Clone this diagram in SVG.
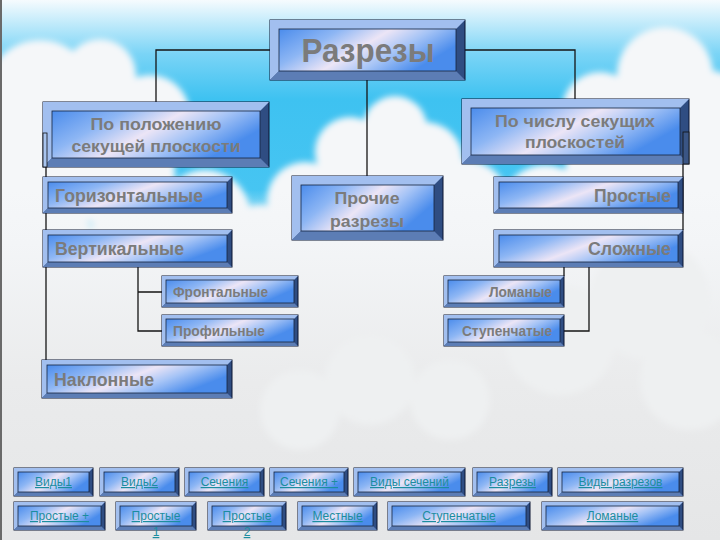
<svg xmlns="http://www.w3.org/2000/svg" width="720" height="540" viewBox="0 0 720 540">
<defs>
<linearGradient id="sky" gradientUnits="userSpaceOnUse" x1="0" y1="0" x2="0" y2="300">
<stop offset="0" stop-color="#f6fbfe"/><stop offset="0.07" stop-color="#c6ecfb"/><stop offset="0.18" stop-color="#7ad4f6"/><stop offset="0.33" stop-color="#3ec2f1"/><stop offset="0.65" stop-color="#47c5f2"/><stop offset="1" stop-color="#9adcf5"/>
</linearGradient>
<linearGradient id="low" gradientUnits="userSpaceOnUse" x1="0" y1="190" x2="0" y2="540">
<stop offset="0" stop-color="#f3f5f7" stop-opacity="0"/><stop offset="0.15" stop-color="#f3f5f7" stop-opacity="1"/><stop offset="0.55" stop-color="#eaebec"/><stop offset="1" stop-color="#e5e6e7"/>
</linearGradient>
<linearGradient id="fc" x1="0" y1="0" x2="1" y2="0.4">
<stop offset="0" stop-color="#4b8cec"/><stop offset="0.3" stop-color="#8db6f4"/><stop offset="0.55" stop-color="#ece5f6"/><stop offset="0.75" stop-color="#a6c4f6"/><stop offset="1" stop-color="#4a8cec"/>
</linearGradient>
<filter id="soft" x="-10%" y="-10%" width="120%" height="120%"><feGaussianBlur stdDeviation="3"/></filter>
<style>
.ed{fill:#2f4d82;stroke:#0b1530;stroke-width:1}
.tl{fill:#a2bfef}
.bt{fill:#5c7db5}
.fa{fill:url(#fc);stroke:#16233f;stroke-width:0.8}
.t{font-family:"Liberation Sans",Arial,sans-serif;font-weight:bold;fill:#7b7b7b}
.bn{font-family:"Liberation Sans",Arial,sans-serif;font-size:12px;fill:#1b8d9f;text-decoration:underline;text-anchor:middle}
.cn{fill:none;stroke:#151515;stroke-width:1.3}
</style>
</defs>
<g id="background">
<rect x="0" y="0" width="720" height="540" fill="url(#sky)"/>
<g fill="#f5f7f9" filter="url(#soft)">
<circle cx="40" cy="95" r="55"/><circle cx="100" cy="75" r="36"/><circle cx="150" cy="115" r="40"/><circle cx="30" cy="170" r="70"/><circle cx="120" cy="175" r="55"/><circle cx="205" cy="215" r="45"/><circle cx="40" cy="235" r="50"/>
<circle cx="395" cy="128" r="32"/><circle cx="350" cy="152" r="35"/><circle cx="425" cy="160" r="38"/><circle cx="305" cy="200" r="38"/><circle cx="465" cy="205" r="45"/><circle cx="370" cy="200" r="50"/>
<circle cx="665" cy="75" r="48"/><circle cx="600" cy="110" r="38"/><circle cx="705" cy="120" r="50"/><circle cx="625" cy="175" r="60"/><circle cx="545" cy="210" r="45"/><circle cx="705" cy="190" r="55"/><circle cx="690" cy="240" r="45"/>
<circle cx="260" cy="240" r="35"/><circle cx="510" cy="245" r="35"/><circle cx="600" cy="240" r="40"/><circle cx="130" cy="240" r="40"/>
</g>
<rect x="0" y="190" width="720" height="350" fill="url(#low)"/>
<g fill="#eef0f1" filter="url(#soft)">
<circle cx="300" cy="410" r="40"/><circle cx="370" cy="380" r="45"/><circle cx="450" cy="400" r="40"/><circle cx="560" cy="340" r="55"/><circle cx="650" cy="300" r="60"/><circle cx="690" cy="380" r="50"/>
</g>
<line x1="1" y1="0" x2="1" y2="540" stroke="#6a6a6a" stroke-width="2"/>
</g>
<g id="connectors" class="cn">
<path d="M270,50 H156 V102"/>
<path d="M465,50 H575 V99"/>
<path d="M367,80 V176"/>
<path d="M46,140 V360"/>
<path d="M683,132 V230"/>
<path d="M138,267 V331 H162 M138,292 H162"/>
<path d="M564,267 V276 M589,267 V331 H564"/>
</g>
<g id="n-razrezy">
<rect class="ed" x="270" y="20" width="195" height="60"/>
<polygon class="tl" points="270,20 465,20 456,29 279,29 279,71 270,80"/>
<polygon class="bt" points="270,80 465,80 456,71 279,71"/>
<rect class="fa" x="279" y="29" width="177" height="42"/>
<text class="t" x="368" y="62" font-size="34" text-anchor="middle" textLength="133" lengthAdjust="spacingAndGlyphs">Разрезы</text>
</g>
<g id="n-polozh">
<rect class="ed" x="43" y="102" width="226" height="65"/>
<polygon class="tl" points="43,102 269,102 260,111 52,111 52,158 43,167"/>
<polygon class="bt" points="43,167 269,167 260,158 52,158"/>
<rect class="fa" x="52" y="111" width="208" height="47"/>
<rect x="43" y="133" width="4" height="34" fill="#a8c4ee" stroke="#111" stroke-width="0.8"/>
<text class="t" x="156" y="130" font-size="17" text-anchor="middle" textLength="131" lengthAdjust="spacingAndGlyphs">По положению</text>
<text class="t" x="156" y="152" font-size="17" text-anchor="middle" textLength="169" lengthAdjust="spacingAndGlyphs">секущей плоскости</text>
</g>
<g id="n-chislo">
<rect class="ed" x="462" y="99" width="227" height="65"/>
<polygon class="tl" points="462,99 689,99 680,108 471,108 471,155 462,164"/>
<polygon class="bt" points="462,164 689,164 680,155 471,155"/>
<rect class="fa" x="471" y="108" width="209" height="47"/>
<rect x="683" y="132" width="6" height="32" fill="#3a5585" stroke="#111" stroke-width="0.8"/>
<text class="t" x="575" y="127" font-size="17" text-anchor="middle" textLength="160" lengthAdjust="spacingAndGlyphs">По числу секущих</text>
<text class="t" x="575" y="148" font-size="17" text-anchor="middle" textLength="100" lengthAdjust="spacingAndGlyphs">плоскостей</text>
</g>
<g id="n-prochie">
<rect class="ed" x="292" y="176" width="151" height="64"/>
<polygon class="tl" points="292,176 443,176 434,185 301,185 301,231 292,240"/>
<polygon class="bt" points="292,240 443,240 434,231 301,231"/>
<rect class="fa" x="301" y="185" width="133" height="46"/>
<text class="t" x="367" y="204" font-size="17" text-anchor="middle" textLength="65" lengthAdjust="spacingAndGlyphs">Прочие</text>
<text class="t" x="367" y="227" font-size="17" text-anchor="middle" textLength="74" lengthAdjust="spacingAndGlyphs">разрезы</text>
</g>
<g id="n-gor">
<rect class="ed" x="43" y="177" width="189" height="36"/>
<polygon class="tl" points="43,177 232,177 227,182 48,182 48,208 43,213"/>
<polygon class="bt" points="43,213 232,213 227,208 48,208"/>
<rect class="fa" x="48" y="182" width="179" height="26"/>
<text class="t" x="55" y="202" font-size="18" textLength="148" lengthAdjust="spacingAndGlyphs">Горизонтальные</text>
</g>
<g id="n-vert">
<rect class="ed" x="43" y="230" width="189" height="37"/>
<polygon class="tl" points="43,230 232,230 227,235 48,235 48,262 43,267"/>
<polygon class="bt" points="43,267 232,267 227,262 48,262"/>
<rect class="fa" x="48" y="235" width="179" height="27"/>
<text class="t" x="55" y="255" font-size="18" textLength="129" lengthAdjust="spacingAndGlyphs">Вертикальные</text>
</g>
<g id="n-prostye">
<rect class="ed" x="494" y="177" width="189" height="36"/>
<polygon class="tl" points="494,177 683,177 678,182 499,182 499,208 494,213"/>
<polygon class="bt" points="494,213 683,213 678,208 499,208"/>
<rect class="fa" x="499" y="182" width="179" height="26"/>
<text class="t" x="671" y="202" font-size="18" text-anchor="end" textLength="77" lengthAdjust="spacingAndGlyphs">Простые</text>
</g>
<g id="n-slozhnye">
<rect class="ed" x="494" y="230" width="189" height="37"/>
<polygon class="tl" points="494,230 683,230 678,235 499,235 499,262 494,267"/>
<polygon class="bt" points="494,267 683,267 678,262 499,262"/>
<rect class="fa" x="499" y="235" width="179" height="27"/>
<text class="t" x="671" y="255" font-size="18" text-anchor="end" textLength="83" lengthAdjust="spacingAndGlyphs">Сложные</text>
</g>
<g id="n-front">
<rect class="ed" x="162" y="276" width="136" height="31"/>
<polygon class="tl" points="162,276 298,276 294,280 166,280 166,303 162,307"/>
<polygon class="bt" points="162,307 298,307 294,303 166,303"/>
<rect class="fa" x="166" y="280" width="128" height="23"/>
<text class="t" x="173" y="297" font-size="14" textLength="95" lengthAdjust="spacingAndGlyphs">Фронтальные</text>
</g>
<g id="n-profil">
<rect class="ed" x="162" y="315" width="136" height="31"/>
<polygon class="tl" points="162,315 298,315 294,319 166,319 166,342 162,346"/>
<polygon class="bt" points="162,346 298,346 294,342 166,342"/>
<rect class="fa" x="166" y="319" width="128" height="23"/>
<text class="t" x="173" y="336" font-size="14" textLength="92" lengthAdjust="spacingAndGlyphs">Профильные</text>
</g>
<g id="n-lomanye">
<rect class="ed" x="444" y="276" width="120" height="31"/>
<polygon class="tl" points="444,276 564,276 560,280 448,280 448,303 444,307"/>
<polygon class="bt" points="444,307 564,307 560,303 448,303"/>
<rect class="fa" x="448" y="280" width="112" height="23"/>
<text class="t" x="552" y="297" font-size="14" text-anchor="end" textLength="63" lengthAdjust="spacingAndGlyphs">Ломаные</text>
</g>
<g id="n-stupen">
<rect class="ed" x="444" y="315" width="120" height="31"/>
<polygon class="tl" points="444,315 564,315 560,319 448,319 448,342 444,346"/>
<polygon class="bt" points="444,346 564,346 560,342 448,342"/>
<rect class="fa" x="448" y="319" width="112" height="23"/>
<text class="t" x="552" y="336" font-size="14" text-anchor="end" textLength="90" lengthAdjust="spacingAndGlyphs">Ступенчатые</text>
</g>
<g id="n-naklon">
<rect class="ed" x="42" y="360" width="190" height="38"/>
<polygon class="tl" points="42,360 232,360 227,365 47,365 47,393 42,398"/>
<polygon class="bt" points="42,398 232,398 227,393 47,393"/>
<rect class="fa" x="47" y="365" width="180" height="28"/>
<text class="t" x="54" y="386" font-size="19" textLength="100" lengthAdjust="spacingAndGlyphs">Наклонные</text>
</g>
<g id="btn-vidy1">
<rect class="ed" x="14" y="468" width="79" height="28"/>
<polygon class="tl" points="14,468 93,468 89,472 18,472 18,492 14,496"/>
<polygon class="bt" points="14,496 93,496 89,492 18,492"/>
<rect class="fa" x="18" y="472" width="71" height="20"/>
<text class="bn" x="53.5" y="486">Виды1</text>
</g>
<g id="btn-vidy2">
<rect class="ed" x="100" y="468" width="79" height="28"/>
<polygon class="tl" points="100,468 179,468 175,472 104,472 104,492 100,496"/>
<polygon class="bt" points="100,496 179,496 175,492 104,492"/>
<rect class="fa" x="104" y="472" width="71" height="20"/>
<text class="bn" x="139.5" y="486">Виды2</text>
</g>
<g id="btn-sech">
<rect class="ed" x="185" y="468" width="79" height="28"/>
<polygon class="tl" points="185,468 264,468 260,472 189,472 189,492 185,496"/>
<polygon class="bt" points="185,496 264,496 260,492 189,492"/>
<rect class="fa" x="189" y="472" width="71" height="20"/>
<text class="bn" x="224.5" y="486">Сечения</text>
</g>
<g id="btn-sechplus">
<rect class="ed" x="270" y="468" width="78" height="28"/>
<polygon class="tl" points="270,468 348,468 344,472 274,472 274,492 270,496"/>
<polygon class="bt" points="270,496 348,496 344,492 274,492"/>
<rect class="fa" x="274" y="472" width="70" height="20"/>
<text class="bn" x="309" y="486">Сечения +</text>
</g>
<g id="btn-vidysech">
<rect class="ed" x="354" y="468" width="111" height="28"/>
<polygon class="tl" points="354,468 465,468 461,472 358,472 358,492 354,496"/>
<polygon class="bt" points="354,496 465,496 461,492 358,492"/>
<rect class="fa" x="358" y="472" width="103" height="20"/>
<text class="bn" x="409.5" y="486">Виды сечений</text>
</g>
<g id="btn-razrezy">
<rect class="ed" x="473" y="468" width="79" height="28"/>
<polygon class="tl" points="473,468 552,468 548,472 477,472 477,492 473,496"/>
<polygon class="bt" points="473,496 552,496 548,492 477,492"/>
<rect class="fa" x="477" y="472" width="71" height="20"/>
<text class="bn" x="512.5" y="486">Разрезы</text>
</g>
<g id="btn-vidyrazr">
<rect class="ed" x="558" y="468" width="125" height="28"/>
<polygon class="tl" points="558,468 683,468 679,472 562,472 562,492 558,496"/>
<polygon class="bt" points="558,496 683,496 679,492 562,492"/>
<rect class="fa" x="562" y="472" width="117" height="20"/>
<text class="bn" x="620.5" y="486">Виды разрезов</text>
</g>
<g id="btn-prostplus">
<rect class="ed" x="14" y="502" width="91" height="28"/>
<polygon class="tl" points="14,502 105,502 101,506 18,506 18,526 14,530"/>
<polygon class="bt" points="14,530 105,530 101,526 18,526"/>
<rect class="fa" x="18" y="506" width="83" height="20"/>
<text class="bn" x="59.5" y="520">Простые +</text>
</g>
<g id="btn-prost1">
<rect class="ed" x="116" y="502" width="80" height="28"/>
<polygon class="tl" points="116,502 196,502 192,506 120,506 120,526 116,530"/>
<polygon class="bt" points="116,530 196,530 192,526 120,526"/>
<rect class="fa" x="120" y="506" width="72" height="20"/>
<text class="bn" x="156" y="520">Простые</text>
<text class="bn" x="156" y="536">1</text>
</g>
<g id="btn-prost2">
<rect class="ed" x="208" y="502" width="78" height="28"/>
<polygon class="tl" points="208,502 286,502 282,506 212,506 212,526 208,530"/>
<polygon class="bt" points="208,530 286,530 282,526 212,526"/>
<rect class="fa" x="212" y="506" width="70" height="20"/>
<text class="bn" x="247" y="520">Простые</text>
<text class="bn" x="247" y="536">2</text>
</g>
<g id="btn-mestnye">
<rect class="ed" x="298" y="502" width="79" height="28"/>
<polygon class="tl" points="298,502 377,502 373,506 302,506 302,526 298,530"/>
<polygon class="bt" points="298,530 377,530 373,526 302,526"/>
<rect class="fa" x="302" y="506" width="71" height="20"/>
<text class="bn" x="337.5" y="520">Местные</text>
</g>
<g id="btn-stupen">
<rect class="ed" x="388" y="502" width="142" height="28"/>
<polygon class="tl" points="388,502 530,502 526,506 392,506 392,526 388,530"/>
<polygon class="bt" points="388,530 530,530 526,526 392,526"/>
<rect class="fa" x="392" y="506" width="134" height="20"/>
<text class="bn" x="459" y="520">Ступенчатые</text>
</g>
<g id="btn-loman">
<rect class="ed" x="542" y="502" width="141" height="28"/>
<polygon class="tl" points="542,502 683,502 679,506 546,506 546,526 542,530"/>
<polygon class="bt" points="542,530 683,530 679,526 546,526"/>
<rect class="fa" x="546" y="506" width="133" height="20"/>
<text class="bn" x="612.5" y="520">Ломаные</text>
</g>
</svg>
